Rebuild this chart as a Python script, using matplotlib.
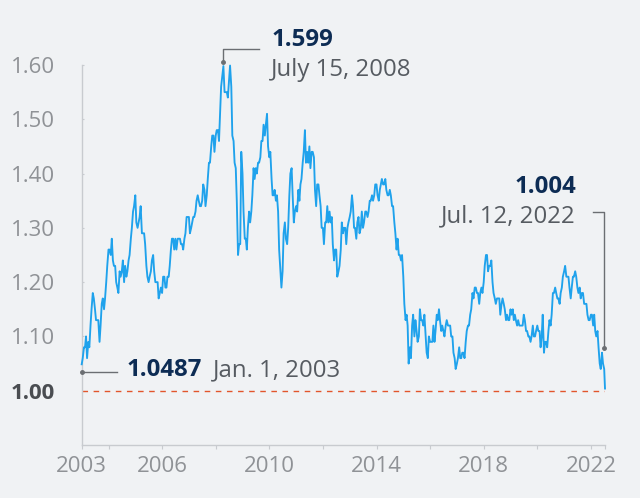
import matplotlib
matplotlib.use("Agg")
import matplotlib.pyplot as plt
import numpy as np
import pandas as pd

# ---------------- data (EUR/USD, values on the 1st and 15th of each month) ----------------
y2003 = [1.0487, 1.06, 1.08, 1.08, 1.10, 1.06, 1.09, 1.08, 1.12, 1.15, 1.18, 1.17,
         1.15, 1.13, 1.13, 1.13, 1.09, 1.12, 1.16, 1.17, 1.15, 1.17, 1.20, 1.23]
y2004 = [1.26, 1.26, 1.25, 1.28, 1.24, 1.23, 1.23, 1.20, 1.19, 1.18, 1.22, 1.21,
         1.22, 1.24, 1.20, 1.23, 1.21, 1.22, 1.24, 1.25, 1.28, 1.30, 1.33, 1.34]
y2005 = [1.36, 1.31, 1.30, 1.31, 1.32, 1.34, 1.29, 1.29, 1.29, 1.27, 1.23, 1.21,
         1.20, 1.21, 1.22, 1.24, 1.25, 1.22, 1.20, 1.20, 1.20, 1.17, 1.18, 1.19]
y2006 = [1.18, 1.21, 1.21, 1.19, 1.19, 1.21, 1.21, 1.23, 1.26, 1.28, 1.28, 1.26,
         1.28, 1.26, 1.28, 1.28, 1.28, 1.27, 1.27, 1.26, 1.28, 1.29, 1.32, 1.32]
y2007 = [1.32, 1.29, 1.30, 1.31, 1.32, 1.32, 1.33, 1.35, 1.36, 1.35, 1.34, 1.34,
         1.35, 1.38, 1.37, 1.34, 1.36, 1.39, 1.42, 1.42, 1.45, 1.47, 1.47, 1.44]
y2008 = [1.47, 1.48, 1.48, 1.46, 1.51, 1.56, 1.58, 1.598, 1.55, 1.55, 1.55, 1.54,
         1.57, 1.599, 1.56, 1.47, 1.46, 1.42, 1.41, 1.35, 1.25, 1.27, 1.27, 1.44]
y2009 = [1.40, 1.33, 1.28, 1.28, 1.26, 1.30, 1.33, 1.31, 1.33, 1.36, 1.41, 1.39,
         1.41, 1.40, 1.42, 1.42, 1.43, 1.46, 1.46, 1.49, 1.47, 1.49, 1.51, 1.45]
y2010 = [1.43, 1.44, 1.39, 1.36, 1.36, 1.37, 1.35, 1.36, 1.33, 1.26, 1.22, 1.19,
         1.22, 1.29, 1.31, 1.28, 1.27, 1.30, 1.36, 1.40, 1.41, 1.36, 1.31, 1.33]
y2011 = [1.34, 1.33, 1.37, 1.35, 1.38, 1.39, 1.42, 1.44, 1.48, 1.42, 1.44, 1.42,
         1.45, 1.41, 1.44, 1.44, 1.43, 1.37, 1.34, 1.38, 1.38, 1.36, 1.34, 1.30]
y2012 = [1.30, 1.27, 1.31, 1.31, 1.34, 1.31, 1.33, 1.31, 1.32, 1.27, 1.24, 1.26,
         1.26, 1.21, 1.22, 1.23, 1.26, 1.31, 1.29, 1.30, 1.30, 1.27, 1.30, 1.31]
y2013 = [1.32, 1.33, 1.36, 1.34, 1.30, 1.30, 1.28, 1.31, 1.32, 1.29, 1.30, 1.33,
         1.30, 1.31, 1.33, 1.33, 1.32, 1.33, 1.35, 1.35, 1.36, 1.35, 1.36, 1.38]
y2014 = [1.38, 1.36, 1.35, 1.37, 1.38, 1.39, 1.38, 1.38, 1.39, 1.37, 1.36, 1.36,
         1.37, 1.36, 1.34, 1.34, 1.31, 1.29, 1.26, 1.28, 1.25, 1.25, 1.24, 1.25]
y2015 = [1.21, 1.16, 1.13, 1.14, 1.12, 1.05, 1.08, 1.06, 1.12, 1.14, 1.10, 1.13,
         1.11, 1.09, 1.10, 1.15, 1.13, 1.13, 1.12, 1.14, 1.10, 1.07, 1.06, 1.10]
y2016 = [1.09, 1.09, 1.09, 1.12, 1.09, 1.11, 1.14, 1.13, 1.15, 1.13, 1.11, 1.12,
         1.11, 1.10, 1.12, 1.13, 1.12, 1.12, 1.12, 1.10, 1.10, 1.07, 1.06, 1.04]
y2017 = [1.05, 1.06, 1.08, 1.06, 1.06, 1.07, 1.07, 1.06, 1.09, 1.11, 1.12, 1.12,
         1.14, 1.15, 1.18, 1.17, 1.19, 1.19, 1.18, 1.18, 1.16, 1.18, 1.19, 1.18]
y2018 = [1.20, 1.23, 1.25, 1.25, 1.22, 1.23, 1.23, 1.24, 1.20, 1.18, 1.17, 1.16,
         1.17, 1.17, 1.17, 1.14, 1.16, 1.17, 1.16, 1.15, 1.13, 1.14, 1.13, 1.13]
y2019 = [1.15, 1.14, 1.15, 1.13, 1.14, 1.13, 1.12, 1.13, 1.12, 1.12, 1.12, 1.12,
         1.14, 1.13, 1.11, 1.11, 1.10, 1.10, 1.09, 1.10, 1.12, 1.10, 1.10, 1.11]
y2020 = [1.12, 1.11, 1.11, 1.08, 1.10, 1.14, 1.07, 1.09, 1.09, 1.08, 1.11, 1.13,
         1.12, 1.14, 1.18, 1.18, 1.19, 1.18, 1.17, 1.17, 1.16, 1.18, 1.19, 1.21]
y2021 = [1.22, 1.23, 1.21, 1.21, 1.21, 1.19, 1.17, 1.19, 1.21, 1.21, 1.22, 1.21,
         1.19, 1.18, 1.19, 1.17, 1.18, 1.18, 1.16, 1.16, 1.16, 1.14, 1.13, 1.13]
y2022 = [1.14, 1.14, 1.12, 1.14, 1.11, 1.10, 1.11, 1.08, 1.05, 1.04, 1.07, 1.05, 1.04]
last_date = "2022-07-12"
last_value = 1.004

x_tick_years = [2003, 2004, 2006, 2008, 2010, 2012, 2014, 2016, 2018, 2020, 2022]
x_label_years = [2003, 2006, 2010, 2014, 2018, 2022]
y_ticks = [1.00, 1.10, 1.20, 1.30, 1.40, 1.50, 1.60]
y_labels = ["1.00", "1.10", "1.20", "1.30", "1.40", "1.50", "1.60"]

peak_value_label, peak_date_label = "1.599", "July 15, 2008"
start_value_label, start_date_label = "1.0487", "Jan. 1, 2003"
end_value_label, end_date_label = "1.004", "Jul. 12, 2022"

# ---------------- build series ----------------
values = (y2003 + y2004 + y2005 + y2006 + y2007 + y2008 + y2009 + y2010 + y2011 + y2012 +
          y2013 + y2014 + y2015 + y2016 + y2017 + y2018 + y2019 + y2020 + y2021 + y2022)
dates = pd.date_range("2003-01-01", periods=len(values), freq="SMS")
dates = dates.append(pd.DatetimeIndex([last_date]))
values = values + [last_value]


def dec_year(ts):
    ts = pd.Timestamp(ts)
    start = pd.Timestamp(year=ts.year, month=1, day=1)
    end = pd.Timestamp(year=ts.year + 1, month=1, day=1)
    return ts.year + (ts - start) / (end - start)


xs = np.array([dec_year(d) for d in dates])
ys = np.array(values)

# ---------------- style ----------------
BG = "#f0f2f4"
BLUE = "#1fa2ec"
NAVY = "#0d2c54"
GRAY_TXT = "#565b61"
TICK_TXT = "#8f9296"
SPINE = "#c8cbcf"
LEADER = "#6b6e72"
FONT = ["Open Sans", "DejaVu Sans"]
plt.rcParams["font.family"] = FONT
TICK_FS = 16
ANN_FS = 17.3

fig = plt.figure(figsize=(6.4, 4.98), dpi=100, facecolor=BG)
ax = fig.add_axes([81.7 / 640, 53 / 498, (605 - 81.7) / 640, (445 - 65) / 498])
ax.set_facecolor(BG)

xmin, xmax = xs[0], xs[-1]
ax.set_xlim(xmin, xmax)
ax.set_ylim(0.90, 1.60)

ax.plot(xs, ys, color=BLUE, lw=1.35, clip_on=False, zorder=3)
ax.axhline(1.00, color="#e2552c", lw=1.0, ls=(0, (4, 4)), zorder=2)

for s in ["top", "right"]:
    ax.spines[s].set_visible(False)
for s in ["left", "bottom"]:
    ax.spines[s].set_color(SPINE)
    ax.spines[s].set_linewidth(1.0)

ax.set_yticks(y_ticks)
ax.set_yticklabels(y_labels)
ax.tick_params(axis="y", direction="in", length=1.5, color=SPINE, pad=19.5,
               labelsize=TICK_FS, labelcolor=TICK_TXT)
for lbl in ax.get_yticklabels():
    lbl.set_horizontalalignment("right")
    if lbl.get_text() == "1.00":
        lbl.set_fontweight("bold")
        lbl.set_color("#4a4d51")

ax.set_xticks(x_tick_years + [xmax])
ax.set_xticklabels([str(y) if y in x_label_years else "" for y in x_tick_years] + [""])
ax.tick_params(axis="x", direction="out", length=3, color=SPINE, pad=5,
               labelsize=TICK_FS, labelcolor=TICK_TXT)

# ---------------- annotations ----------------
# peak
px, py = 2008.27, 1.605
ax.plot([px, px, 2009.6], [py, 1.630, 1.630], color=LEADER, lw=1.0, clip_on=False, zorder=4)
ax.plot([px], [py], "o", ms=2.5, color=LEADER, clip_on=False, zorder=4)
ax.text(2010.07, 1.646, peak_value_label, color=NAVY, fontsize=ANN_FS, fontweight="bold",
        ha="left", va="center", clip_on=False)
ax.text(2010.07, 1.591, peak_date_label, color=GRAY_TXT, fontsize=ANN_FS,
        ha="left", va="center", clip_on=False)

# start
ax.plot([xmin, 2004.32], [1.035, 1.035], color=LEADER, lw=1.0, clip_on=False, zorder=4)
ax.plot([xmin], [1.035], "o", ms=2.5, color=LEADER, clip_on=False, zorder=4)
ax.text(2004.69, 1.038, start_value_label, color=NAVY, fontsize=ANN_FS, fontweight="bold",
        ha="left", va="center")
ax.text(2007.9, 1.038, start_date_label, color=GRAY_TXT, fontsize=ANN_FS,
        ha="left", va="center")

# end
ex = 2022.50
ax.plot([2022.09, ex, ex], [1.329, 1.329, 1.079], color=LEADER, lw=1.0, clip_on=False, zorder=4)
ax.plot([ex], [1.079], "o", ms=2.5, color=LEADER, clip_on=False, zorder=4)
ax.text(2021.45, 1.375, end_value_label, color=NAVY, fontsize=ANN_FS, fontweight="bold",
        ha="right", va="center")
ax.text(2021.45, 1.322, end_date_label, color=GRAY_TXT, fontsize=ANN_FS,
        ha="right", va="center")

fig.savefig("out.png", dpi=100, facecolor=BG)
